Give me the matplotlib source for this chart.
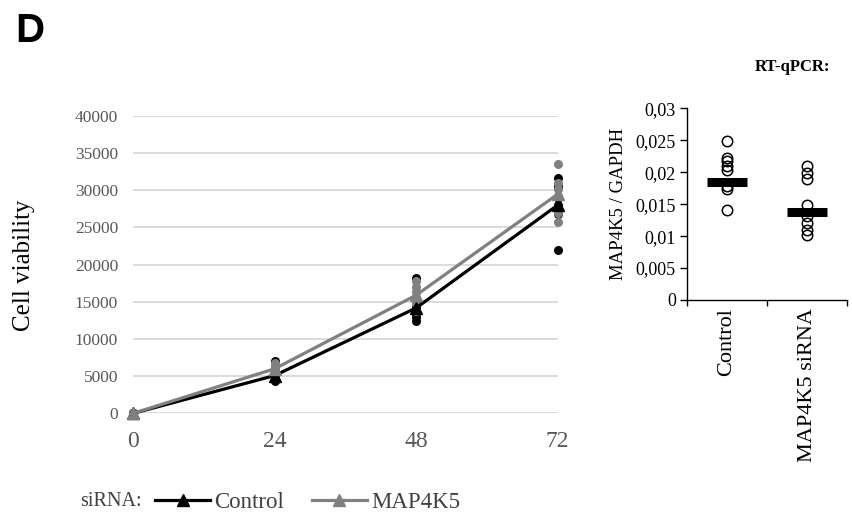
import matplotlib
matplotlib.use("Agg")
import matplotlib.pyplot as plt
import numpy as np

plt.rcParams['font.family'] = ['Liberation Serif', 'DejaVu Serif']

# Growth curve: hours after transfection and replicate cell viability readings
hours = [0, 24, 48, 72]
control_reps = [
    [0, 0, 0, 0, 0, 0],
    [4300, 4500, 4700, 4900, 5100, 7000],
    [12400, 12900, 13500, 13800, 14300, 18200],
    [22000, 26800, 28000, 29000, 30600, 31700],
]
map4k5_reps = [
    [0, 0, 0, 0, 0, 0],
    [5300, 5600, 5900, 6100, 6300, 6800],
    [13800, 14900, 15600, 16300, 17000, 17800],
    [25800, 27000, 29300, 30200, 31000, 33600],
]
y_ticks = [0, 5000, 10000, 15000, 20000, 25000, 30000, 35000, 40000]

# RT-qPCR knockdown check
groups = ["Control", "MAP4K5 siRNA"]
qpcr_control = [0.0249, 0.0222, 0.0217, 0.0210, 0.0204, 0.0178, 0.0174, 0.0141]
qpcr_sirna = [0.0210, 0.0198, 0.0190, 0.0148, 0.0131, 0.0120, 0.0110, 0.0101]
qpcr_means = [0.0184, 0.0138]
qpcr_ticks = [0, 0.005, 0.01, 0.015, 0.02, 0.025, 0.03]
qpcr_ticklabels = ["0", "0,005", "0,01", "0,015", "0,02", "0,025", "0,03"]

BLACK = "#000000"
GREY = "#808080"
TICK_GREY = "#595959"

fig = plt.figure(figsize=(8.52, 5.13), dpi=100)

# ---- growth curve ----
ax = fig.add_axes([133.3 / 852, 1 - 413.3 / 513, 424.4 / 852, 297.3 / 513])
for s in ax.spines.values():
    s.set_visible(False)
ax.set_xlim(0, 72)
ax.set_ylim(0, 40000)
ax.set_yticks(y_ticks)
ax.set_xticks(hours)
ax.yaxis.grid(True, color="#d9d9d9", linewidth=1.3)
ax.set_axisbelow(True)
ax.tick_params(axis="both", length=0, colors=TICK_GREY)
ax.tick_params(axis="y", labelsize=12.5, pad=11)
ax.tick_params(axis="x", labelsize=17, pad=13)

for reps, col, z in [(control_reps, BLACK, 3), (map4k5_reps, GREY, 4)]:
    for h, vals in zip(hours, reps):
        ax.plot([h] * len(vals), vals, "o", color=col, markersize=6.5,
                markeredgewidth=0, clip_on=False, zorder=z)

ctrl_mean = [np.mean(v) for v in control_reps]
map_mean = [np.mean(v) for v in map4k5_reps]
l_ctrl, = ax.plot(hours, ctrl_mean, "-^", color=BLACK, linewidth=2.3,
                  markersize=9, clip_on=False, zorder=5, label="Control")
l_map, = ax.plot(hours, map_mean, "-^", color=GREY, linewidth=2.3,
                 markersize=9, clip_on=False, zorder=6, label="MAP4K5")

fig.text(24 / 852, 1 - 265 / 513, "Cell viability", rotation=90,
         fontsize=18, ha="center", va="center", color="#000000")

fig.text(80 / 852, 1 - 502 / 513, "siRNA:", fontsize=14.5, ha="left",
         va="center", color="#404040")
fig.legend(handles=[l_ctrl, l_map], loc="center left",
           bbox_to_anchor=(155 / 852, 1 - 502 / 513), ncol=2, frameon=False,
           fontsize=16.5, handlelength=2.4, handletextpad=0.2,
           columnspacing=1.2, borderpad=0, borderaxespad=0,
           labelcolor="#404040")

# ---- RT-qPCR panel ----
bx = fig.add_axes([687 / 852, 1 - 300 / 513, 160 / 852, 191.7 / 513])
bx.set_xlim(0, 2)
bx.set_ylim(0, 0.03)
for side in ("top", "right"):
    bx.spines[side].set_visible(False)
for side in ("left", "bottom"):
    bx.spines[side].set_linewidth(1.0)
bx.set_yticks(qpcr_ticks)
bx.set_yticklabels(qpcr_ticklabels)
bx.tick_params(axis="y", direction="out", length=5, width=1.0,
               labelsize=13, pad=3)
bx.set_xticks([0, 1, 2])
bx.set_xticklabels([])
bx.tick_params(axis="x", which="major", direction="out", length=4, width=1.0)
bx.set_xticks([0.5, 1.5], minor=True)
bx.set_xticklabels(groups, minor=True, rotation=90, fontsize=16)
bx.tick_params(axis="x", which="minor", length=0, pad=6)

for i, vals in enumerate([qpcr_control, qpcr_sirna]):
    bx.plot([i + 0.5] * len(vals), vals, "o", markerfacecolor="none",
            markeredgecolor=BLACK, markersize=7.5, markeredgewidth=1.1,
            clip_on=False, zorder=3)
bx.hlines(qpcr_means, [0.25, 1.25], [0.75, 1.75], colors=BLACK,
          linewidth=6.5, zorder=4)
bx.set_ylabel("MAP4K5 / GAPDH", fontsize=13.5, labelpad=6)

fig.text(793 / 852, 1 - 67 / 513, "RT-qPCR:", fontsize=12,
         fontweight="bold", ha="center", va="center")

fig.text(15 / 852, 1 - 42 / 513, "D", fontsize=29, fontweight="bold",
         family="Liberation Sans", ha="left", va="baseline")

fig.savefig("out.png", dpi=100)
